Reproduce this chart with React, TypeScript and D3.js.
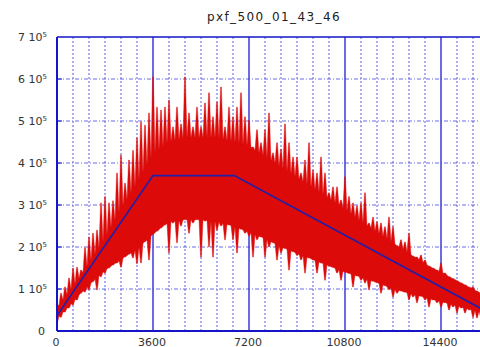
import React from "react";
import * as d3 from "d3";

// Count-rate trace: a solid body (sampled every 600 s) with spikes
// above and below it (sampled every 150 s).
const TITLE = "pxf_500_01_43_46";
const SPIKE_STEP = 150;
const BODY_STEP = 600;

// spike tops, units of 1e5
const upperE5 = [
  0.62, 0.9, 1.05, 1.26, 1.5, 1.52, 1.45, 1.98, 2.24, 2.33,
  2.4, 3.05, 3.2, 3.05, 3.1, 3.76, 4.19, 3.52, 4.07, 4.3,
  4.6, 4.98, 4.9, 5.19, 6.05, 5.33, 5.26, 5.33, 5.5, 4.86,
  5.33, 4.93, 6.05, 5.19, 4.86, 5.33, 4.86, 5.43, 5.67, 5.1,
  5.45, 5.81, 4.86, 5.33, 5.1, 5.33, 5.67, 5.1, 5.02, 4.38,
  4.79, 4.48, 4.79, 5.19, 4.24, 4.48, 4.33, 4.93, 4.48, 4.14,
  4.14, 3.76, 4.07, 4.48, 3.83, 3.76, 4.14, 3.76, 3.29, 3.43,
  3.43, 3.12, 3.67, 3.2, 3.05, 2.98, 3.05, 3.29, 2.57, 2.71,
  2.6, 2.57, 2.48, 2.71, 2.48, 2.0, 2.17, 2.12, 2.33, 1.69,
  1.76, 1.81, 1.69, 1.52, 1.45, 1.38, 1.62, 1.38, 1.21, 1.21,
  1.14, 1.05, 1.05, 0.98, 1.05, 0.9, 0.74,
];

// spike bottoms, units of 1e5
const lowerE5 = [
  0.19, 0.33, 0.45, 0.55, 0.62, 0.74, 0.98, 0.93, 0.98, 1.17,
  0.98, 1.29, 1.38, 1.5, 1.57, 1.62, 1.52, 1.93, 1.86, 1.74,
  1.6, 1.62, 2.17, 1.69, 2.33, 2.81, 2.71, 2.88, 1.86, 2.57,
  2.1, 2.5, 2.71, 2.33, 2.57, 2.88, 1.76, 2.62, 2.0, 1.76,
  2.4, 2.5, 2.17, 2.71, 2.17, 1.86, 2.5, 2.33, 2.26, 1.76,
  2.17, 2.57, 1.76, 2.0, 2.26, 1.69, 1.86, 2.0, 1.45, 1.93,
  1.8, 1.69, 1.38, 1.76, 1.69, 1.38, 1.62, 1.21, 1.62, 1.69,
  1.38, 1.21, 1.52, 1.38, 1.05, 1.45, 1.21, 1.14, 0.98, 1.38,
  1.25, 0.9, 1.38, 0.98, 0.81, 0.9, 0.98, 1.05, 0.74, 0.81,
  0.67, 0.9, 0.74, 0.57, 0.74, 0.67, 0.57, 0.74, 0.5, 0.57,
  0.43, 0.55, 0.43, 0.5, 0.33, 0.31, 0.33,
];

// solid body edges, units of 1e5
const bodyHiE5 = [
  0.55, 1.05, 1.6, 2.2, 2.9, 3.5, 4.2, 4.5, 4.6, 4.6,
  4.6, 4.5, 4.4, 4.15, 3.9, 3.65, 3.4, 3.15, 2.9, 2.6,
  2.35, 2.1, 1.85, 1.6, 1.4, 1.2, 1.0, 0.8,
];
const bodyLoE5 = [
  0.3, 0.7, 1.1, 1.45, 1.7, 1.95, 2.3, 2.6, 2.65, 2.65,
  2.6, 2.5, 2.35, 2.2, 2.0, 1.85, 1.7, 1.55, 1.4, 1.28,
  1.15, 1.0, 0.9, 0.8, 0.7, 0.6, 0.5, 0.42,
];

// fitted trapezoid profile
const trendTimes = [0, 3600, 6650, 16000];
const trendE5 = [0.37, 3.7, 3.7, 0.5];

const xMajorTicks = [0, 3600, 7200, 10800, 14400];
const xMinorStep = 600;
const yTicksE5 = [0, 1, 2, 3, 4, 5, 6, 7];

const W = 480;
const H = 347;
const M = { left: 57, top: 37, bottom: 331 };
const X_END = 16200;
const HALF = 75; // half-width of a spike base, seconds
const CAP = 15; // half-width of a spike's flat top, seconds

export default function App() {
  const x = d3.scaleLinear().domain([0, X_END]).range([M.left, M.left + X_END / 37.5]);
  const y = d3.scaleLinear().domain([0, 7]).range([M.bottom, M.top]);

  const bodyTimes = bodyHiE5.map((_, i) => i * BODY_STEP);
  const bodyHi = d3.scaleLinear().domain(bodyTimes).range(bodyHiE5).clamp(true);
  const bodyLo = d3.scaleLinear().domain(bodyTimes).range(bodyLoE5).clamp(true);
  const tLast = (upperE5.length - 1) * SPIKE_STEP;
  const clampT = (t: number) => Math.max(0, Math.min(tLast, t));

  const edge = (
    values: number[],
    body: (t: number) => number,
    pick: (a: number, b: number) => number
  ) => {
    const pts: [number, number][] = [];
    values.forEach((v, i) => {
      const t = i * SPIKE_STEP;
      const peak = pick(v, body(t));
      const a = clampT(t - HALF);
      const b = clampT(t + HALF);
      if (a < t) pts.push([a, body(a)]);
      pts.push([clampT(t - CAP), peak]);
      pts.push([clampT(t + CAP), peak]);
      if (b > t) pts.push([b, body(b)]);
    });
    return pts;
  };

  const top = edge(upperE5, bodyHi, Math.max);
  const bottom = edge(lowerE5, bodyLo, Math.min);
  const outline = top.concat(bottom.reverse());
  const trace =
    d3
      .line<[number, number]>()
      .x((d) => x(d[0]))
      .y((d) => y(d[1]))(outline) + "Z";

  const trend = d3
    .line<number>()
    .x((_, i) => x(trendTimes[i]))
    .y((d) => y(d))(trendE5);

  const minorTicks = d3.range(0, X_END + 1, xMinorStep).filter((t) => t % 3600 !== 0);
  const font = "'DejaVu Sans', sans-serif";

  return (
    <svg
      width={W}
      height={H}
      style={{ position: "absolute", left: 0, top: 0, background: "#fff" }}
    >
      <rect x={0} y={0} width={W} height={H} fill="#fff" />
      <text
        x={274}
        y={21}
        textAnchor="middle"
        fontFamily={font}
        fontSize={12}
        letterSpacing={1.4}
        fill="#222"
      >
        {TITLE}
      </text>

      {/* grid */}
      {minorTicks.map((t) => (
        <line
          key={"mv" + t}
          x1={x(t)}
          x2={x(t)}
          y1={M.top}
          y2={M.bottom}
          stroke="#5a5ae6"
          strokeWidth={1}
          strokeDasharray="2,2"
        />
      ))}
      {yTicksE5.slice(1, -1).map((v) => (
        <line
          key={"h" + v}
          x1={M.left}
          x2={W}
          y1={y(v)}
          y2={y(v)}
          stroke="#6a6ae8"
          strokeWidth={1}
          strokeDasharray="4,2,1,2"
        />
      ))}
      {xMajorTicks.slice(1).map((t) => (
        <line
          key={"Mv" + t}
          x1={x(t)}
          x2={x(t)}
          y1={M.top}
          y2={M.bottom}
          stroke="#3a3ad8"
          strokeWidth={1.5}
        />
      ))}

      {/* data */}
      <path d={trace} fill="#dd0a0a" stroke="#dd0a0a" strokeWidth={0.4} />
      <path d={trend ?? ""} fill="none" stroke="#2020a8" strokeWidth={1.6} />

      {/* frame */}
      <line x1={M.left} x2={W} y1={M.top} y2={M.top} stroke="#1515c8" strokeWidth={1.5} />
      <line x1={M.left} x2={W} y1={M.bottom} y2={M.bottom} stroke="#1515c8" strokeWidth={2} />
      <line x1={M.left} x2={M.left} y1={M.top} y2={M.bottom} stroke="#1515c8" strokeWidth={2} />
      {yTicksE5.slice(1, -1).map((v) => (
        <line key={"yt" + v} x1={M.left} x2={M.left + 5} y1={y(v)} y2={y(v)} stroke="#1515c8" strokeWidth={1} />
      ))}

      {/* y labels */}
      {yTicksE5.map((v) =>
        v === 0 ? (
          <text key={"yl" + v} x={45} y={y(v) + 3.5} textAnchor="end" fontFamily={font} fontSize={11} fill="#333">
            0
          </text>
        ) : (
          <text key={"yl" + v} x={47} y={y(v) + 3.5} textAnchor="end" fontFamily={font} fontSize={11} fill="#333">
            <tspan>{`${v} 10`}</tspan>
            <tspan dy={-4} fontSize={7}>
              5
            </tspan>
          </text>
        )
      )}

      {/* x labels */}
      {xMajorTicks.map((t) => (
        <text key={"xl" + t} x={x(t) - 1} y={346} textAnchor="middle" fontFamily={font} fontSize={11} fill="#333">
          {t}
        </text>
      ))}
    </svg>
  );
}
